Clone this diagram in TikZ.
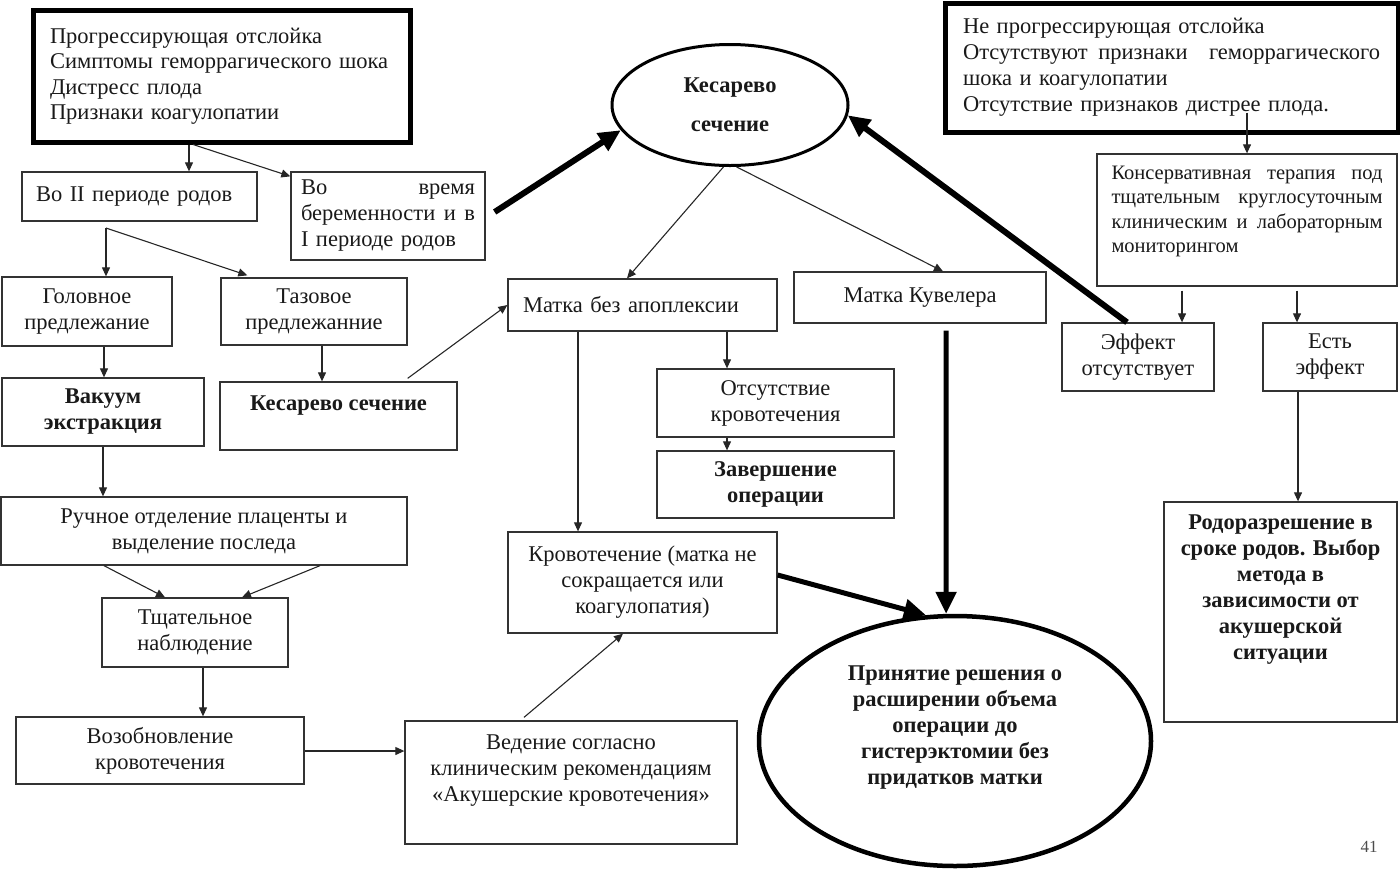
\documentclass[tikz,border=0pt]{standalone}
\usepackage{fontspec}
\setmainfont{Liberation Serif}
\usetikzlibrary{arrows.meta,shapes.geometric,calc}
\newcommand\myDp[1]{\rule[-#1]{0pt}{#1}}
\newcommand\myJ[2]{\leavevmode\hbox to #1{#2}}
\begin{document}
\begin{tikzpicture}[x=1pt,y=-1pt,
  every node/.style={font=\fontsize{22.5}{26}\selectfont, text=black!90},
  box/.style={draw=black!80, line width=1.3pt, rectangle, inner sep=0pt, align=center},
  tbox/.style={draw=black, line width=5pt, rectangle, inner sep=0pt},
  oval/.style={draw=black, ellipse, inner sep=0pt, align=center},
  bf/.style={font=\bfseries\fontsize{22.5}{26}\selectfont},
  arr/.style={draw=black!85, line width=1.1pt, -{Triangle[length=9pt,width=8pt]}},
  tarr/.style={draw=black, line width=6pt, -{Triangle[length=22pt,width=20pt]}}
]
\useasboundingbox (0,0) rectangle (1400,868);

% top row
\node[tbox, minimum width=377pt, minimum height=132pt, text width=343pt, align=left, font=\fontsize{22.5}{25.5}\selectfont] (tl) at (221.5,76)
  {Прогрессирующая отслойка\\Симптомы геморрагического шока\\Дистресс плода\\Признаки коагулопатии};
\node[box, minimum width=235pt, minimum height=49pt, text width=207pt, align=left] (p2) at (139.5,196.5)
  {Во II периоде родов};
\node[box, minimum width=194pt, minimum height=88pt, text width=174pt, align=left] (p1) at (388,216)
  {\myJ{174pt}{Во\hfill время}\\\myJ{174pt}{беременности\hfill и\hfill в}\\I периоде родов};
\node[oval, line width=3pt, minimum width=236pt, minimum height=121pt, font=\bfseries\fontsize{22.5}{39}\selectfont] (ce) at (730,105)
  {Кесарево\\сечение};
\node[tbox, minimum width=453pt, minimum height=129pt, text width=417pt, align=left] (rt) at (1171.5,67.5)
  {Не прогрессирующая отслойка\\\myJ{417pt}{Отсутствуют\hfill признаки\hfill\hfill геморрагического}\\шока и коагулопатии\\Отсутствие признаков дистрее плода.};
\node[box, minimum width=300pt, minimum height=132pt, text width=271pt, align=left, font=\fontsize{20.5}{24.5}\selectfont] (kon) at (1247,220)
  {\myJ{271pt}{Консервативная\hfill терапия\hfill под}\\\myJ{271pt}{тщательным\hfill\hfill круглосуточным}\\\myJ{271pt}{клиническим\hfill и\hfill лабораторным}\\мониторингом\myDp{21pt}};
\node[box, minimum width=152pt, minimum height=68pt] (eo) at (1138,357) {Эффект\\отсутствует};
\node[box, minimum width=134pt, minimum height=68pt] (ee) at (1330,357) {Есть\\эффект};
\node[box, bf, minimum width=233pt, minimum height=220pt] (rod) at (1280.5,612)
  {Родоразрешение в\\сроке родов. Выбор\\метода в\\зависимости от\\акушерской\\ситуации\myDp{49pt}};

% left column
\node[box, minimum width=170pt, minimum height=69pt] (gol) at (87,311.5) {Головное\\предлежание};
\node[box, minimum width=186pt, minimum height=67pt] (taz) at (314,311.5) {Тазовое\\предлежанние};
\node[box, bf, minimum width=202pt, minimum height=68pt] (vak) at (103,412) {Вакуум\\экстракция};
\node[box, bf, minimum width=237pt, minimum height=68pt] (ks) at (338.5,416) {Кесарево сечение\myDp{26pt}};
\node[box, minimum width=406pt, minimum height=68pt] (ruch) at (204,531) {Ручное отделение плаценты и\\выделение последа};
\node[box, minimum width=186pt, minimum height=69pt] (tsh) at (195,632.5) {Тщательное\\наблюдение};
\node[box, minimum width=288pt, minimum height=67pt] (voz) at (160,750.5) {Возобновление\\кровотечения};
\node[box, minimum width=332pt, minimum height=123pt] (ved) at (571,782.5)
  {Ведение согласно\\клиническим рекомендациям\\«Акушерские кровотечения»\myDp{29pt}};

% middle column
\node[box, minimum width=269pt, minimum height=52pt, text width=239pt, align=left] (mb) at (642.5,305) {Матка без апоплексии};
\node[box, minimum width=252pt, minimum height=51pt] (mk) at (920,297.5) {Матка Кувелера};
\node[box, minimum width=237pt, minimum height=68pt] (ot) at (775.5,403) {Отсутствие\\кровотечения};
\node[box, bf, minimum width=237pt, minimum height=67pt] (zav) at (775.5,484.5) {Завершение\\операции};
\node[box, minimum width=269pt, minimum height=101pt] (kr) at (642.5,582.5)
  {Кровотечение (матка не\\сокращается или\\коагулопатия)};
\node[oval, bf, line width=4.5pt, minimum width=392pt, minimum height=250pt] (big) at (955,741)
  {Принятие решения о\\расширении объема\\операции до\\гистерэктомии без\\придатков матки\myDp{31pt}};

\node[font=\fontsize{17}{20}\selectfont, text=black!70] (pg) at (1369,847) {41};

% thin connectors
\coordinate (j1) at (106,228);
\draw[arr] (189,0 |- tl.south) -- (189,0 |- p2.north);
\draw[arr] (193,0 |- tl.south) -- ($(p1.north west)+(0,5)$);
\draw[arr] (j1) -- (j1 |- gol.north);
\draw[arr] (j1) -- ($(taz.north west)+(27,-2)$);
\draw[arr] (104,0 |- gol.south) -- (104,0 |- vak.north);
\draw[arr] (322,0 |- taz.south) -- (322,0 |- ks.north);
\draw[arr] ($(ks.north east)+(-50,-3)$) -- (mb.west |- 0,305);
\draw[arr] (103,0 |- vak.south) -- (103,0 |- ruch.north);
\draw[arr] (104,0 |- ruch.south) -- (165,0 |- tsh.north);
\draw[arr] (320,0 |- ruch.south) -- (242,0 |- tsh.north);
\draw[arr] (203,0 |- tsh.south) -- (203,0 |- voz.north);
\draw[arr] (voz.east |- 0,751) -- (ved.west |- 0,751);
\draw[arr] ($(524,0 |- ved.north)+(0,-3)$) -- (623,0 |- kr.south);
\draw[arr] (ce.264) -- (627,0 |- mb.north);
\draw[arr] (ce.276) -- (943,0 |- mk.north);
\draw[arr] (578,0 |- mb.south) -- (578,0 |- kr.north);
\draw[arr] (727,0 |- mb.south) -- (727,0 |- ot.north);
\draw[arr] (727,0 |- ot.south) -- (727,0 |- zav.north);
\draw[arr] ($(rt.south)+(75.5,-22)$) -- (1247,0 |- kon.north);
\draw[arr] ($(1182,0 |- kon.south)+(0,4)$) -- (1182,0 |- eo.north);
\draw[arr] ($(1297,0 |- kon.south)+(0,4)$) -- (1297,0 |- ee.north);
\draw[arr] (1298,0 |- ee.south) -- (1298,0 |- rod.north);

% thick connectors
\draw[tarr] ($(p1.east |- 0,212)+(9,0)$) -- (ce.193);
\draw[tarr] (1127,0 |- eo.north) -- (ce.355);
\draw[tarr, line width=5pt] (kr.east |- 0,575) -- (big.103);
\draw[tarr, line width=5pt] ($(946,0 |- mk.south)+(0,7)$) -- (big.94);
\end{tikzpicture}
\end{document}
